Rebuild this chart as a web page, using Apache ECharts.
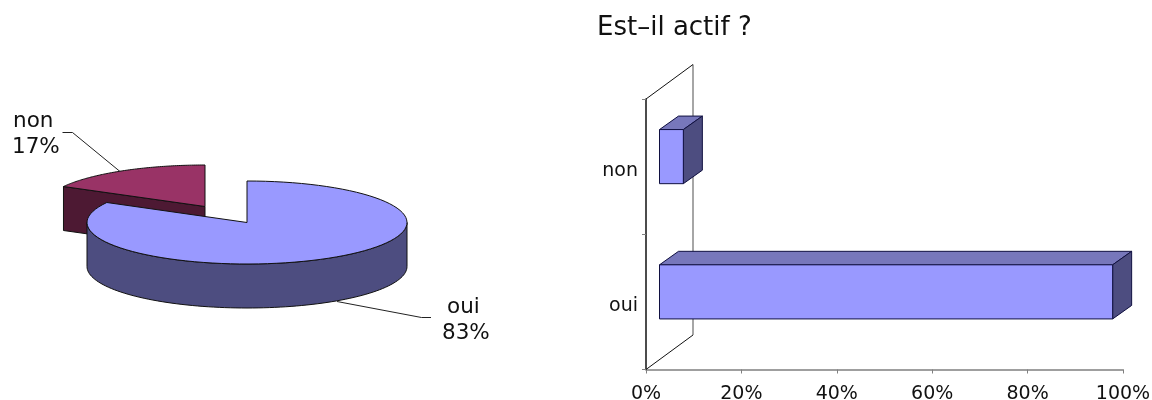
<!DOCTYPE html>
<html><head><meta charset="utf-8">
<style>html,body{margin:0;padding:0;background:#fff}#c{width:1152px;height:400px}</style>
<script src="https://cdn.jsdelivr.net/npm/echarts@6/dist/echarts.min.js"></script>
</head><body><div id="c"></div>
<script>
var chartTitle = 'Est–il actif ?';
var pieCategories = ['oui', 'non'];
var pieValues = [83, 17];
var barCategories = ['oui', 'non'];
var barValues = [95, 5];

var FONT = '"DejaVu Sans", Verdana, sans-serif';
var RY = 41.5, THICK = 44;
var pieRadiiX = [160, 161.5];
var pieCenters = [[247, 222.5], [205, 206.5]];
var topColors = ['#9999FF', '#993366'];
var sideColors = ['#4D4D80', '#4D1933'];
var LINE = '#111';

function pt(c, rx, t, dy) {
  return [c[0] + rx * Math.sin(t), c[1] - RY * Math.cos(t) + (dy || 0)];
}
function arc(c, rx, a, b, dy) {
  var out = [], n = 90;
  for (var i = 0; i <= n; i++) out.push(pt(c, rx, a + (b - a) * i / n, dy));
  return out;
}
function poly(points, fill) {
  return {type: 'polygon', shape: {points: points},
    style: {fill: fill, stroke: LINE, lineWidth: 1, lineJoin: 'round'}};
}
function renderPie() {
  var total = pieValues[0] + pieValues[1];
  var end = 2 * Math.PI * pieValues[0] / total;
  var full = 2 * Math.PI;
  var ch = [];
  // detached slice, drawn first: it sits behind the larger one
  var c1 = pieCenters[1], r1 = pieRadiiX[1];
  var left = pt(c1, r1, end);
  ch.push(poly([c1, left, [left[0], left[1] + THICK], [c1[0], c1[1] + THICK]], sideColors[1]));
  ch.push(poly([c1].concat(arc(c1, r1, end, full)), topColors[1]));
  // large slice: outer wall, then top
  var c0 = pieCenters[0], r0 = pieRadiiX[0];
  var wallA = Math.PI / 2, wallB = Math.min(end, 1.5 * Math.PI);
  ch.push(poly(arc(c0, r0, wallA, wallB).concat(arc(c0, r0, wallA, wallB, THICK).reverse()), sideColors[0]));
  ch.push(poly([c0].concat(arc(c0, r0, 0, end)), topColors[0]));
  return {type: 'group', children: ch};
}
function leader(points) {
  return {type: 'polyline', shape: {points: points}, style: {stroke: '#222', lineWidth: 1, fill: null}};
}
function pieLabel(x, y, txt) {
  return {type: 'text', x: x, y: y, style: {text: txt, font: '21.5px ' + FONT, fill: '#111', textAlign: 'left', textVerticalAlign: 'middle'}};
}
function renderPieLabels() {
  return {type: 'group', children: [
    leader([[62.5, 132.5], [72.5, 132.5], [120, 171.5]]),
    leader([[337, 301.5], [421.5, 317.5], [431, 317.5]]),
    pieLabel(13, 121, pieCategories[1]),
    pieLabel(12, 147, pieValues[1] + '%'),
    pieLabel(447, 307, pieCategories[0]),
    pieLabel(442, 333, pieValues[0] + '%')
  ]};
}
var WALL = [47, -34.5], BACK = [19, -13.5], FRONT = [13.5, -10];
function renderWalls(params, api) {
  var band = api.size([0, 1])[1];
  var p0 = api.coord([0, 0]), p1 = api.coord([0, 1]);
  var o = [p0[0], p0[1] + band / 2], t = [p1[0], p1[1] - band / 2];
  var bo = [o[0] + WALL[0], o[1] + WALL[1]], bt = [t[0] + WALL[0], t[1] + WALL[1]];
  return {type: 'group', children: [
    {type: 'polyline', shape: {points: [bo, bt]}, style: {stroke: '#808080', lineWidth: 1.4, fill: null}},
    {type: 'polyline', shape: {points: [o, bo]}, style: {stroke: '#111', lineWidth: 1, fill: null}},
    {type: 'polyline', shape: {points: [t, bt]}, style: {stroke: '#111', lineWidth: 1, fill: null}}
  ]};
}
function renderBar(params, api) {
  var v = api.value(0), idx = api.value(1);
  var a = api.coord([0, idx]), b = api.coord([v, idx]);
  var h = api.size([0, 1])[1] * 0.4;
  var x0 = a[0] + FRONT[0], x1 = b[0] + FRONT[0];
  var y0 = a[1] + FRONT[1] - h / 2, y1 = y0 + h;
  var st = function (fill) { return {fill: fill, stroke: '#101040', lineWidth: 1, lineJoin: 'round'}; };
  return {type: 'group', children: [
    {type: 'polygon', shape: {points: [[x0, y0], [x0 + BACK[0], y0 + BACK[1]], [x1 + BACK[0], y0 + BACK[1]], [x1, y0]]}, style: st('#7777BB')},
    {type: 'polygon', shape: {points: [[x1, y0], [x1 + BACK[0], y0 + BACK[1]], [x1 + BACK[0], y1 + BACK[1]], [x1, y1]]}, style: st('#4D4D80')},
    {type: 'rect', shape: {x: x0, y: y0, width: x1 - x0, height: h}, style: st('#9999FF')}
  ]};
}
var chart = echarts.init(document.getElementById('c'), null, {renderer: 'canvas'});
chart.setOption({
  animation: false,
  backgroundColor: '#fff',
  title: {text: chartTitle, left: 592, top: 10, textStyle: {fontFamily: FONT, fontSize: 26, fontWeight: 'normal', color: '#111'}},
  grid: {left: 646, right: 29, top: 99, bottom: 30.5, containLabel: false, outerBoundsMode: 'none'},
  xAxis: {type: 'value', min: 0, max: 100, interval: 20, splitLine: {show: false},
    axisLine: {show: true, lineStyle: {color: '#808080', width: 1.5}},
    axisTick: {show: true, length: 4, lineStyle: {color: '#808080'}},
    axisLabel: {fontFamily: FONT, fontSize: 19, color: '#111', margin: 15, formatter: '{value}%', hideOverlap: false}},
  yAxis: {type: 'category', data: barCategories,
    axisLine: {show: true, onZero: false, lineStyle: {color: '#111', width: 1.5}},
    axisTick: {show: true, length: 4, lineStyle: {color: '#808080'}},
    axisLabel: {fontFamily: FONT, fontSize: 19, color: '#111', margin: 8, verticalAlign: 'top', lineHeight: 8}},
  series: [
    {type: 'custom', coordinateSystem: 'cartesian2d', clip: false, z: 1, silent: true, renderItem: renderWalls, data: [[0, 0]], encode: {x: 0, y: 1}},
    {type: 'custom', coordinateSystem: 'cartesian2d', clip: false, z: 3, silent: true, renderItem: renderBar,
      data: barValues.map(function (v, i) { return [v, i]; }), encode: {x: 0, y: 1}},
    {type: 'custom', coordinateSystem: 'none', silent: true, z: 2, renderItem: renderPie, data: [0]},
    {type: 'custom', coordinateSystem: 'none', silent: true, z: 3, renderItem: renderPieLabels, data: [0]}
  ]
});
</script></body></html>
